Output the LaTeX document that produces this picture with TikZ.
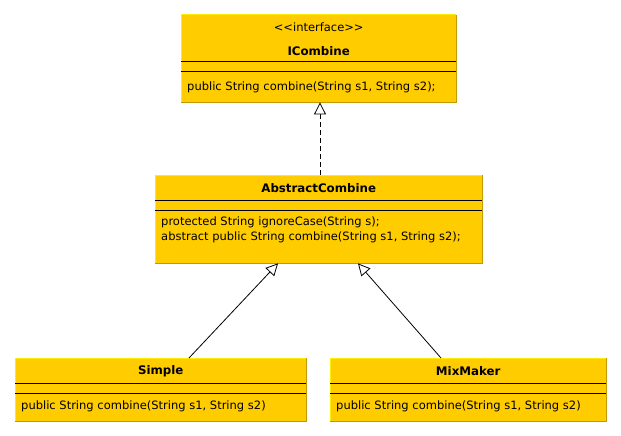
\documentclass[tikz,border=0pt]{standalone}
\usepackage{fontspec}
\setmainfont{DejaVu Sans}
\usetikzlibrary{arrows.meta,calc}
\definecolor{umlfill}{HTML}{FFCC00}
\definecolor{umllight}{HTML}{FFEE00}
\definecolor{umldark}{HTML}{C09A00}
\begin{document}
\begin{tikzpicture}[x=1pt,y=-1pt,
  umlbox/.style={anchor=north west,inner sep=0pt,fill=umlfill,draw=none},
  title/.style={font=\fontsize{11.8}{13}\selectfont\bfseries,inner sep=0pt},
  stereo/.style={font=\fontsize{11.5}{13}\selectfont,inner sep=0pt},
  meth/.style={font=\fontsize{11.5}{15}\selectfont,inner sep=0pt,anchor=west,align=left},
  divider/.style={line width=1pt,black},
  realize/.style={dashed,dash pattern=on 5pt off 3pt,line width=0.8pt,-{Triangle[open,length=12pt,width=12pt,fill=white]}},
  inherit/.style={line width=0.8pt,-{Triangle[open,length=12pt,width=12pt,fill=white]}}]
\useasboundingbox (0,0) rectangle (621,436);
\fill[white] (0,0) rectangle (621,436);
% boxes
\node[umlbox,minimum width=275pt,minimum height=87pt] (ic) at (181,15) {};
\node[umlbox,minimum width=327pt,minimum height=88pt] (ac) at (155,175) {};
\node[umlbox,minimum width=291pt,minimum height=63pt] (si) at (15,358) {};
\node[umlbox,minimum width=276pt,minimum height=63pt] (mm) at (330,358) {};
% edges
\foreach \b in {ic,ac,si,mm}{
  \draw[umllight,line width=1pt] (\b.south west) -- (\b.north west) -- (\b.north east);
  \draw[umldark,line width=1pt] (\b.north east) -- (\b.south east) -- (\b.south west);
}
% dividers
\draw[divider] ($(ic.north west)+(0,47)$) -- ($(ic.north east)+(0,47)$);
\draw[divider] ($(ic.north west)+(0,57)$) -- ($(ic.north east)+(0,57)$);
\draw[divider] ($(ac.north west)+(0,25)$) -- ($(ac.north east)+(0,25)$);
\draw[divider] ($(ac.north west)+(0,35)$) -- ($(ac.north east)+(0,35)$);
\draw[divider] ($(si.north west)+(0,25)$) -- ($(si.north east)+(0,25)$);
\draw[divider] ($(si.north west)+(0,35)$) -- ($(si.north east)+(0,35)$);
\draw[divider] ($(mm.north west)+(0,25)$) -- ($(mm.north east)+(0,25)$);
\draw[divider] ($(mm.north west)+(0,35)$) -- ($(mm.north east)+(0,35)$);
% texts
\node[stereo] (icst) at ($(ic.north)+(0,12)$) {<{}<interface>{}>};
\node[title] (ict) at ($(ic.north)+(0,36)$) {ICombine};
\node[meth] (icm) at ($(ic.north west)+(6,72)$) {public String combine(String s1, String s2);};
\node[title] (act) at ($(ac.north)+(0,13)$) {AbstractCombine};
\node[meth] (acm) at ($(ac.north west)+(6,55)$) {protected String ignoreCase(String s);\\abstract public String combine(String s1, String s2);};
\node[title] (sit) at ($(si.north)+(0,13)$) {Simple};
\node[meth] (sim) at ($(si.north west)+(6,48)$) {public String combine(String s1, String s2)};
\node[title] (mmt) at ($(mm.north)+(0,13)$) {MixMaker};
\node[meth] (mmm) at ($(mm.north west)+(6,48)$) {public String combine(String s1, String s2)};
% connectors
\coordinate (acTop) at ($(ac.north west)+(165,0)$);
\coordinate (icBot) at (acTop |- ic.south);
\draw[realize] (acTop) -- (icBot);
\coordinate (siTop) at ($(si.north west)+(174,0)$);
\coordinate (acL) at ($(ac.south west)+(123,0)$);
\draw[inherit] (siTop) -- (acL);
\coordinate (mmTop) at ($(mm.north west)+(111,0)$);
\coordinate (acR) at ($(ac.south west)+(203,0)$);
\draw[inherit] (mmTop) -- (acR);
\end{tikzpicture}
\end{document}
